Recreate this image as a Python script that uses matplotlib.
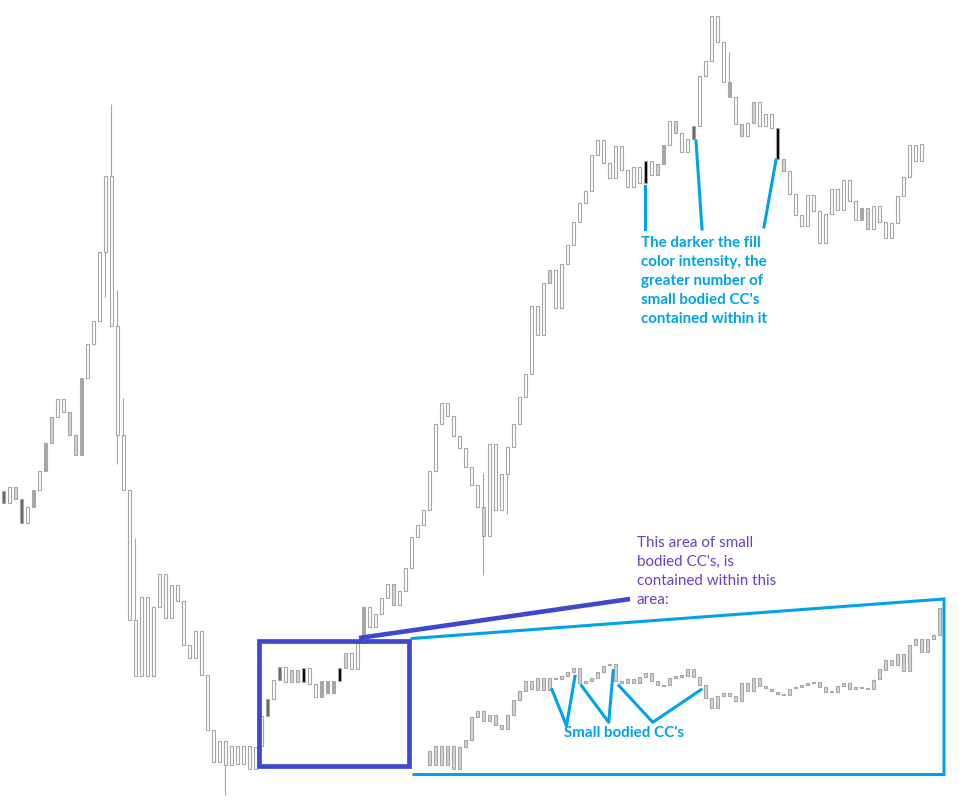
import numpy as np
import matplotlib.pyplot as plt
from matplotlib.patches import Rectangle

W, H, DPI = 970, 803, 100
X0, STEP = 3.5, 6.0          # first candle centre / candle spacing (px)

# main series: body top / bottom as chart levels (measured downward), fill tone per candle
body_top = [492, 488, 488, 500, 508, 491, 472, 444, 418, 400,
            400, 413, 436, 379, 345, 322, 253, 177, 177, 327,
            436, 491, 621, 598, 598, 608, 575, 575, 586, 586,
            602, 646, 632, 632, 676, 731, 742, 742, 747, 747,
            747, 747, 748, 717, 700, 681, 668, 668, 671, 671,
            669, 669, 685, 682, 682, 682, 669, 654, 654, 644,
            608, 608, 615, 599, 585, 585, 592, 569, 538, 526,
            511, 472, 425, 404, 404, 417, 437, 449, 468, 486,
            508, 445, 445, 475, 448, 425, 398, 375, 307, 307,
            284, 271, 271, 265, 246, 223, 204, 192, 156, 141,
            141, 164, 147, 147, 171, 168, 168, 162, 162, 165,
            146, 122, 122, 134, 140, 127, 77, 62, 17, 17,
            43, 83, 98, 125, 124, 103, 103, 115, 115, 129,
            160, 172, 195, 216, 196, 196, 212, 215, 190, 190,
            181, 181, 202, 209, 209, 207, 207, 223, 224, 197,
            178, 146, 146, 145]
body_bot = [504, 504, 500, 524, 524, 508, 491, 472, 444, 418,
            413, 436, 456, 456, 379, 345, 322, 253, 327, 436,
            491, 621, 677, 677, 677, 677, 608, 619, 619, 602,
            646, 659, 659, 676, 731, 763, 763, 766, 766, 765,
            765, 770, 770, 747, 717, 700, 681, 683, 683, 683,
            683, 685, 698, 698, 694, 694, 682, 669, 670, 670,
            644, 628, 628, 615, 599, 606, 606, 592, 569, 538,
            526, 511, 472, 425, 417, 437, 449, 468, 486, 508,
            537, 537, 511, 511, 475, 448, 425, 398, 375, 336,
            336, 284, 309, 309, 265, 246, 223, 204, 192, 156,
            164, 179, 179, 171, 188, 188, 184, 184, 176, 176,
            165, 146, 134, 153, 153, 140, 127, 77, 62, 43,
            83, 98, 125, 137, 137, 124, 127, 127, 129, 160,
            172, 195, 216, 227, 227, 212, 244, 244, 215, 211,
            211, 202, 221, 221, 230, 230, 223, 239, 239, 224,
            197, 178, 162, 162]
tone = ("dwldwmwmlw" "wllmwwwwww"
        "wwwwwwwwww" "wwwwwwwwww"
        "wwwwdwdwll" "kwwmmmklww"
        "mwwwwlwwww" "wwwwwwwwww"
        "lwwwwwwwww" "wlwwwwwwww"
        "wwwwwwwkwl" "mwlwwdwwww"
        "wmwlwlwwwk" "lwwwwwwwww"
        "wwwmlwwwww" "wwww")
wick_idx = [17, 18, 19, 20, 22, 37, 80, 84, 121]
wick_hi = [177, 105, 291, 399, 539, 742, 474, 448, 53]
wick_lo = [298, 327, 465, 491, 677, 796, 576, 515, 98]

# zoomed-in copy of the small bodied area (drawn inside the cyan frame)
INSET_AT = 71
inset_top = [752, 747, 747, 747, 747, 748, 741, 718, 712, 712,
             716, 716, 726, 716, 701, 692, 682, 682, 679, 679,
             679, 679, 677, 673, 669, 669, 682, 679, 673, 667,
             665, 665, 682, 680, 680, 678, 674, 674, 682, 686,
             679, 677, 676, 670, 670, 678, 686, 699, 697, 694,
             694, 697, 684, 684, 679, 679, 687, 690, 693, 695,
             690, 688, 686, 684, 683, 683, 688, 692, 687, 684,
             684, 688, 688, 689, 681, 670, 661, 661, 655, 655,
             646, 640, 640, 640, 636, 609]
inset_bot = [766, 766, 766, 766, 770, 770, 748, 741, 718, 722,
             722, 726, 730, 730, 716, 701, 692, 690, 691, 691,
             691, 680, 680, 677, 673, 684, 684, 682, 679, 673,
             666, 682, 684, 684, 684, 684, 678, 682, 686, 687,
             686, 679, 678, 677, 678, 686, 699, 709, 709, 697,
             697, 702, 702, 692, 692, 687, 689, 692, 695, 696,
             696, 689, 688, 686, 684, 688, 693, 693, 693, 687,
             690, 690, 689, 690, 690, 680, 671, 666, 666, 672,
             672, 646, 653, 653, 640, 636]

fills = {'w': 'white', 'l': '#d4d4d4', 'm': '#a9a9a9', 'd': '#666666', 'k': '#000000'}
EDGE = '#a6a6a6'
LW = 0.8
BODY = 0.6
CYAN = '#00a2e8'
INDIGO = '#3f48cc'
PURPLE = '#6a40c8'

fig = plt.figure(figsize=(W / DPI, H / DPI), dpi=DPI)
ax = fig.add_axes([0, 0, 1, 1])
ax.set_xlim(-X0 / STEP, (W - X0) / STEP)
ax.set_ylim(H, 0)
ax.axis('off')

# wicks first, bodies over them
ax.vlines(wick_idx, wick_hi, wick_lo, color=EDGE, lw=LW, zorder=1)
for i, (t, b, c) in enumerate(zip(body_top, body_bot, tone)):
    ax.add_patch(Rectangle((i - BODY / 2, t), BODY, b - t, facecolor=fills[c],
                           edgecolor=EDGE, lw=LW, zorder=2))
for j, (t, b) in enumerate(zip(inset_top, inset_bot)):
    ax.add_patch(Rectangle((INSET_AT + j - BODY / 2, t), BODY, b - t, facecolor=fills['l'],
                           edgecolor=EDGE, lw=LW, zorder=2))

# annotation layer in pixel coordinates
ov = fig.add_axes([0, 0, 1, 1])
ov.set_xlim(0, W)
ov.set_ylim(H, 0)
ov.axis('off')
ov.patch.set_alpha(0)

ov.add_patch(Rectangle((259.5, 641.5), 150, 125, fill=False, edgecolor=INDIGO, lw=3.4))
ov.plot([359, 630], [639, 600], color=INDIGO, lw=3.3, solid_capstyle='butt')
ov.plot([412, 944, 944, 414], [639.5, 600, 775.5, 775.5], color=CYAN, lw=2.2,
        solid_joinstyle='miter')

# pointers to the shaded candles
ov.plot([645.5, 645.5], [187, 230], color=CYAN, lw=2.2)
ov.plot([696, 702], [142, 230], color=CYAN, lw=2.2)
ov.plot([776, 764], [161, 228], color=CYAN, lw=2.2)
# pointers to the small bodies in the inset
ov.plot([552, 566.5, 575], [690.7, 726.7, 677.3], color=CYAN, lw=2.2)
ov.plot([581.5, 608.7, 613.2], [686.7, 723.3, 671.7], color=CYAN, lw=2.2)
ov.plot([619, 652.8, 701], [686.7, 723.3, 690.7], color=CYAN, lw=2.2)

FONT = 'Lato'
note1 = ["The darker the fill", "color intensity, the", "greater number of",
         "small bodied CC's", "contained within it"]
for k, line in enumerate(note1):
    ov.text(641.5, 247.3 + 19 * k, line, color=CYAN, fontsize=10.9, fontweight='bold',
            family=FONT, va='baseline', ha='left')

note2 = ["This area of small", "bodied CC's, is", "contained within this", "area:"]
for k, line in enumerate(note2):
    ov.text(637, 547.3 + 19 * k, line, color=PURPLE, fontsize=10.9,
            family=FONT, va='baseline', ha='left')

ov.text(564, 737.3, "Small bodied CC's", color=CYAN, fontsize=10.9, fontweight='bold',
        family=FONT, va='baseline', ha='left')

fig.savefig('out.png', dpi=DPI, facecolor='white')
